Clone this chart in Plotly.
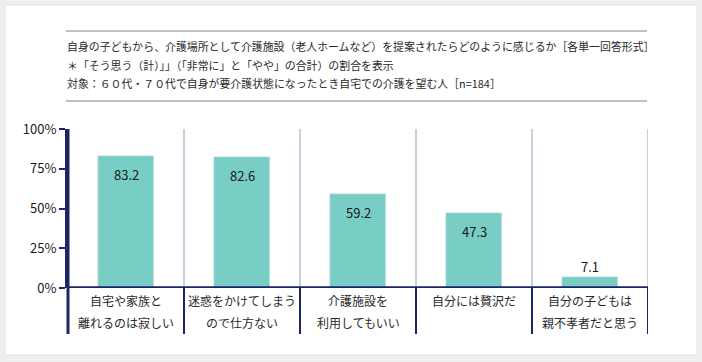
import plotly.graph_objects as go

categories = ["自宅や家族と<br>離れるのは寂しい", "迷惑をかけてしまう<br>ので仕方ない", "介護施設を<br>利用してもいい",
              "自分には贅沢だ", "自分の子どもは<br>親不孝者だと思う"]
values = [83.2, 82.6, 59.2, 47.3, 7.1]
yticks = [0, 25, 50, 75, 100]
yticklabels = ["0%", "25%", "50%", "75%", "100%"]
title_lines = [
    "自身の子どもから、介護場所として介護施設（老人ホームなど）を提案されたらどのように感じるか［各単一回答形式］",
    "＊「そう思う（計）」」（「非常に」と「やや」の合計）の割合を表示",
    "対象：６０代・７０代で自身が要介護状態になったとき自宅での介護を望む人［n=184］",
]

W, H = 702, 362
L, R, T, B = 68, 648, 129, 288
NAVY = "#1c2565"
BAR = "#78cdc5"
GRID = "#b9bfd4"
FONT = "Noto Sans CJK JP"


def px(xp):
    return (xp - L) / (R - L)


def py(yp):
    return (B - yp) / (B - T)


x = list(range(len(categories)))
fig = go.Figure(go.Bar(x=x, y=values, marker_color=BAR, width=0.49, hoverinfo="skip"))

shapes = []
shapes.append(dict(type="rect", xref="paper", yref="paper", x0=px(5), x1=px(697), y0=py(355), y1=py(5),
                   fillcolor="white", line=dict(color="#e2e2e2", width=1), layer="below"))
for yy in [31, 101]:
    shapes.append(dict(type="line", xref="paper", yref="paper", x0=px(66), x1=px(647),
                       y0=py(yy), y1=py(yy), line=dict(color="#7b8499", width=1)))
low = py(334)
for i in range(len(categories)):
    xs = i + 0.5
    shapes.append(dict(type="line", xref="x", yref="y", x0=xs, x1=xs, y0=0, y1=100,
                       line=dict(color=GRID, width=1.5), layer="below"))
    shapes.append(dict(type="line", xref="x", yref="y domain", x0=xs, x1=xs, y0=low, y1=0,
                       line=dict(color=NAVY, width=2)))
shapes.append(dict(type="line", xref="paper", yref="y domain", x0=0, x1=0, y0=low, y1=1.0,
                   line=dict(color=NAVY, width=3)))
shapes.append(dict(type="line", xref="paper", yref="y", x0=0, x1=1, y0=0, y1=0,
                   line=dict(color=NAVY, width=3.5)))

annotations = []
for i, t in enumerate(title_lines):
    annotations.append(dict(text=t, xref="paper", yref="paper", x=px(65),
                            y=py([46, 65, 83][i]), xanchor="left", yanchor="middle", showarrow=False,
                            font=dict(size=10.9, color="#2a2a2a", family=FONT)))
for i, c in enumerate(categories):
    for j, line in enumerate(c.split("<br>")):
        annotations.append(dict(text=line, xref="x", yref="paper", x=i, y=py([300, 322][j]),
                                xanchor="center", yanchor="middle", showarrow=False,
                                font=dict(size=12, color="#2a2a2a", family=FONT)))
for i, v in enumerate(values):
    inside = v > 20
    annotations.append(dict(text=f"{v:.1f}", xref="x", yref="y", x=i, y=v, yanchor="middle",
                            yshift=-19 if inside else 10, showarrow=False,
                            font=dict(size=13, color="#1a1a1a", family=FONT)))

fig.update_layout(
    width=W, height=H, margin=dict(l=L, r=W - R, t=T, b=H - B),
    paper_bgcolor="#eeeeee", plot_bgcolor="rgba(0,0,0,0)",
    showlegend=False, shapes=shapes, annotations=annotations, bargap=0,
    xaxis=dict(range=[-0.5, len(categories) - 0.5], showticklabels=False, showgrid=False,
               zeroline=False, showline=False, ticks="", fixedrange=True),
    yaxis=dict(range=[0, 100], tickvals=yticks, ticktext=yticklabels, showgrid=False, zeroline=False,
               showline=True, linecolor=NAVY, linewidth=3, ticks="outside", ticklen=6, tickwidth=2,
               tickcolor=NAVY, tickfont=dict(size=13, color="#1a1a1a", family=FONT), fixedrange=True),
)
fig.write_html("out.html", config={"displayModeBar": False},
               post_script="document.body.style.margin='0';document.body.style.overflow='hidden';")
